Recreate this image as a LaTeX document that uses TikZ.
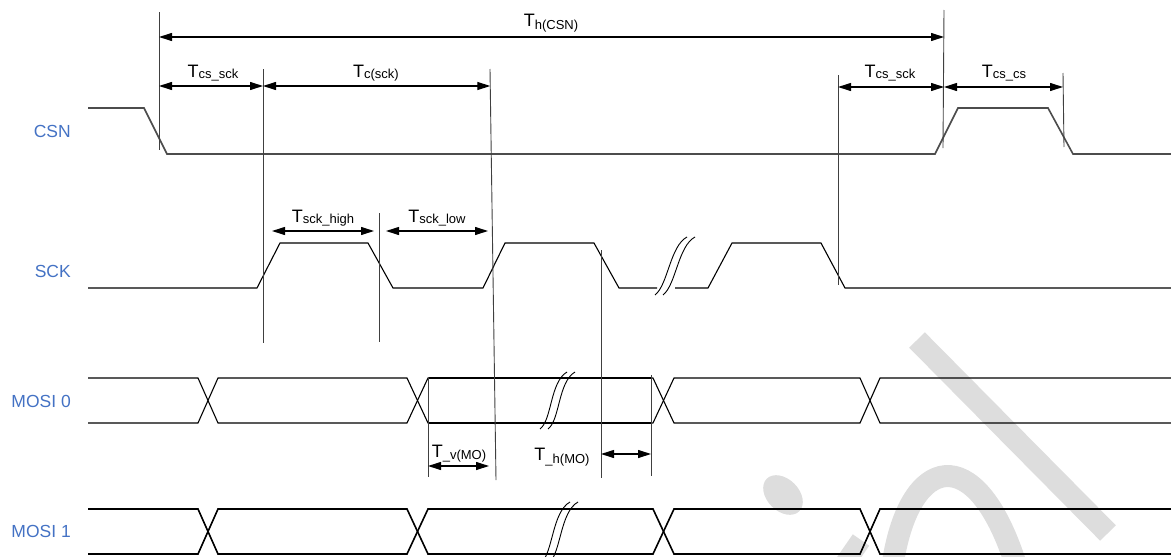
\documentclass[tikz,border=0pt]{standalone}
\usepackage{fontspec}
\setmainfont{Liberation Sans}
\usetikzlibrary{arrows.meta}
\definecolor{sigblue}{HTML}{4472C4}
\definecolor{wmgray}{HTML}{DDDDDD}
\newcommand\tsub[2][-2pt]{T{\fontsize{13}{13}\selectfont\raisebox{#1}{#2}}}
\begin{document}
\begin{tikzpicture}[x=1pt,y=-1pt,
  sig/.style={line width=1.1pt, line join=miter},
  sigthick/.style={line width=1.6pt, line join=miter},
  csnline/.style={line width=1.6pt, black!70},
  guide/.style={line width=0.9pt, black!75},
  dim/.style={line width=1.1pt, {Triangle[length=13pt,width=8pt]}-{Triangle[length=13pt,width=8pt]}},
  tlab/.style={inner sep=0pt, anchor=base, font=\fontsize{18}{18}\selectfont},
  sname/.style={inner sep=0pt, anchor=base east, text=sigblue, font=\fontsize{17.5}{18}\selectfont},
  brk/.style={line width=0.9pt},
  wm/.style={wmgray}]
\useasboundingbox (0,0) rectangle (1171,557);

% watermark
\fill[wm, rotate around={-45:(783,495)}] (783,495) ellipse [x radius=23pt, y radius=16pt];
\draw[wm, line width=22pt] (917,340) -- (1108,533);
\draw[wm, line width=22pt] (893,562) .. controls (910,455) and (975,440) .. (1015,562);
\draw[wm, line width=20pt] (843,566) -- (861,540);

% signal names
\node[sname] (nCSN) at (71,137) {CSN};
\node[sname] (nSCK) at (71,277) {SCK};
\node[sname] (nM0) at (71,407) {MOSI 0};
\node[sname] (nM1) at (71,537) {MOSI 1};

% CSN
\draw[csnline] (88,108) -- (144,108) -- (167,154) -- (935,154) -- (958,108) -- (1048,108) -- (1073,154) -- (1171,154);

% SCK
\draw[sig] (88,288) -- (257,288) -- (280,243) -- (368,243) -- (393,288) -- (483,288) -- (505,243) -- (594,243) -- (619,288) -- (657,288);
\draw[sig] (675,288) -- (708,288) -- (732,243) -- (821,243) -- (845,288) -- (1171,288);
\draw[brk] (655,295) .. controls (668,285) and (670,246) .. (687,237);
\draw[brk] (663,295) .. controls (676,285) and (678,246) .. (695,237);

% MOSI 0
\draw[sig] (88,378) -- (198,378) -- (218,423) -- (407,423) -- (428,378) -- (653,378) -- (674,423) -- (860,423) -- (880,378) -- (1171,378);
\draw[sig] (88,423) -- (198,423) -- (218,378) -- (407,378) -- (428,423) -- (653,423) -- (674,378) -- (860,378) -- (880,423) -- (1171,423);
\draw[line width=1.6pt] (428,378) -- (651,378);
\draw[line width=1.6pt] (428,423) -- (651,423);
\draw[brk] (540,429) .. controls (552,420) and (550,382) .. (567,372);
\draw[brk] (548,429) .. controls (560,420) and (558,382) .. (575,372);

% MOSI 1
\draw[sigthick] (88,509) -- (198,509) -- (218,554) -- (407,554) -- (428,509) -- (653,509) -- (674,554) -- (860,554) -- (880,509) -- (1171,509);
\draw[sigthick] (88,554) -- (198,554) -- (218,509) -- (407,509) -- (428,554) -- (653,554) -- (674,509) -- (860,509) -- (880,554) -- (1171,554);
\draw[brk] (541,563) .. controls (553,553) and (552,512) .. (570,502);
\draw[brk] (549,563) .. controls (561,553) and (560,512) .. (578,502);

% guide lines
\coordinate (g1t) at (159,12);   \coordinate (g1b) at (159,150);
\coordinate (g2t) at (263,69);   \coordinate (g2b) at (263,343);
\coordinate (g3t) at (490,69);   \coordinate (g3b) at (496,480);
\coordinate (g4t) at (379,213);  \coordinate (g4b) at (379,342);
\coordinate (g5t) at (601,250);  \coordinate (g5b) at (601,478);
\coordinate (g6t) at (838,75);   \coordinate (g6b) at (838,285);
\coordinate (g7t) at (944,10);   \coordinate (g7b) at (943,148);
\coordinate (g8t) at (1063,73);  \coordinate (g8b) at (1064,147);
\coordinate (g9t) at (428,377);  \coordinate (g9b) at (428,477);
\coordinate (g10t) at (651,375); \coordinate (g10b) at (651,476);
\foreach \i in {1,...,10} \draw[guide] (g\i t) -- (g\i b);

% dimension arrows
\coordinate (a1l) at (159,37);  \coordinate (a1r) at (944,37);
\coordinate (a2l) at (159,86);  \coordinate (a2r) at (263,86);
\coordinate (a3l) at (263,86);  \coordinate (a3r) at (490.3,86);
\coordinate (a4l) at (838,87);  \coordinate (a4r) at (944,87);
\coordinate (a5l) at (944,87);  \coordinate (a5r) at (1063,87);
\coordinate (a6l) at (272,231); \coordinate (a6r) at (374,231);
\coordinate (a7l) at (386,231); \coordinate (a7r) at (488,231);
\coordinate (a8l) at (428,466); \coordinate (a8r) at (489,466);
\coordinate (a9l) at (601,454); \coordinate (a9r) at (651,454);
\foreach \i in {1,...,9} \draw[dim] (a\i l) -- (a\i r);

% timing labels
\node[tlab] (lThCSN) at (551,26) {\tsub[-3pt]{h(CSN)}};
\node[tlab] (lTcssck) at (213,77) {\tsub[-1pt]{cs\_sck}};
\node[tlab] (lTcsck) at (376,77) {\tsub[-1pt]{c(sck)}};
\node[tlab] (lTcssck2) at (890,77) {\tsub[-1pt]{cs\_sck}};
\node[tlab] (lTcscs) at (1004,77) {\tsub[-1pt]{cs\_cs}};
\node[tlab] (lTsckh) at (323,222) {\tsub[-1pt]{sck\_high}};
\node[tlab] (lTsckl) at (437,222) {\tsub[-1pt]{sck\_low}};
\node[tlab] (lTvMO) at (459,457) {\tsub[-2pt]{\_v(MO)}};
\node[tlab] (lThMO) at (562,460) {\tsub[-3pt]{\_h(MO)}};
\end{tikzpicture}
\end{document}
